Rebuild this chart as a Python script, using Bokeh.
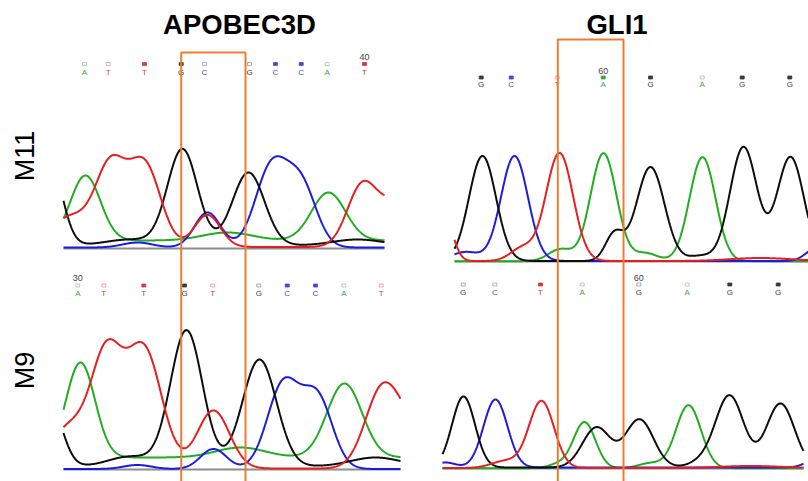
import numpy as np
from bokeh.plotting import figure
from bokeh.models import Range1d
from bokeh.core.properties import value
from bokeh.embed import file_html
from bokeh.resources import INLINE

# ---------------- data ----------------
genes = ["APOBEC3D", "GLI1"]
samples = ["M11", "M9"]

# chromatogram peaks per channel: (scan position, signal height, peak width)
# baseline level per channel
# --- APOBEC3D / M11
p1_base = {"A": 8, "C": 1, "G": 3, "T": 1.5}
p1_A = [(22, 65, 15), (164, 8, 25), (265, 48, 17)]
p1_C = [(74, 5, 15), (144, 35, 13), (208, 80, 16), (238, 60, 15)]
p1_G = [(-13, 80, 12), (67, 6, 25), (119, 96, 15), (185, 73, 16), (294, 6, 25)]
p1_T = [(7, 30, 20), (47, 78, 15), (81, 82, 16), (144, 32, 13), (299, 62, 15), (332, 40, 15)]
p1_bases = ["A", "T", "T", "G", "C", "G", "C", "C", "A", "T"]
p1_base_pos = [21, 44.7, 81, 117.7, 141, 186, 212, 237.7, 263.7, 301]
p1_qual = [0, 0, 1, 1, 0, 0, 1, 1, 0, 1]
p1_num = ("40", 9)

# --- GLI1 / M11
p2_base = {"A": 0.3, "C": 0.5, "G": 0.5, "T": 0.5}
p2_A = [(106, 12, 12), (149, 108, 13), (191, 8, 12), (248, 104, 13)]
p2_C = [(11, 9, 14), (60, 105, 13.5), (361, 12, 10)]
p2_G = [(28, 105, 13.5), (160, 27, 9), (196, 94, 14), (246, 5, 12), (289, 114, 13.5), (336, 104, 13.5)]
p2_T = [(-9, 40, 8), (68, 13, 12), (105, 108, 13.5), (306, 3, 30)]
p2_bases = ["G", "C", "T", "A", "G", "A", "G", "G"]
p2_base_pos = [26.7, 56.7, 102.7, 148.7, 196, 247.7, 287.7, 335.3]
p2_qual = [1, 1, 0, 1, 1, 0, 1, 1]
p2_num = ("60", 3)

# --- APOBEC3D / M9
p3_base = {"A": 12, "C": 0.5, "G": 3, "T": 1}
p3_A = [(17, 95, 14.5), (177, 10, 25), (281, 74, 17.5)]
p3_C = [(74, 4, 14), (150, 20, 13), (220, 85, 16), (254, 70, 15)]
p3_G = [(-13, 60, 12), (67, 10, 22), (123, 136, 16), (196, 107, 17), (312, 9, 25)]
p3_T = [(7, 42, 20), (43, 105, 15), (80, 120, 18), (150, 58, 16), (319, 80, 17), (347, 30, 15)]
p3_bases = ["A", "T", "T", "G", "T", "G", "C", "C", "A", "T"]
p3_base_pos = [14.3, 40.3, 80.3, 121, 149.3, 195.3, 223.7, 252, 280.3, 317.7]
p3_qual = [0, 0, 1, 1, 0, 0, 1, 1, 0, 0]
p3_num = ("30", 0)

# --- GLI1 / M9
p4_base = {"A": 0.3, "C": 1, "G": 1, "T": 0.5}
p4_A = [(116, 4, 10), (142, 46, 11), (208, 5, 12), (246, 63, 12.5)]
p4_C = [(3, 5, 10), (53, 68, 12), (373, 8, 10)]
p4_G = [(21, 71, 11.5), (154, 40, 14), (197, 48, 14), (258, 5, 12), (287, 72, 14), (338, 64, 14)]
p4_T = [(63, 7, 14), (99, 67, 12.5), (308, 2, 30)]
p4_bases = ["G", "C", "T", "A", "G", "A", "G", "G"]
p4_base_pos = [20.7, 52.3, 98, 139.7, 196.3, 244.7, 287.3, 335.7]
p4_qual = [0, 0, 1, 0, 0, 0, 1, 1]
p4_num = ("60", 4)

# highlighted site (scan range, relative to the M11 panel of each gene)
site_apobec = (117.7, 182)
site_gli1 = (103.3, 169)

# ---------------- layout / style ----------------
W, H = 808, 481
trace_col = {"A": "#1fae1f", "C": "#1c1ce0", "G": "#0d0d0d", "T": "#e61e1e"}
letter_col = {"A": "#3aa83a", "C": "#4848d8", "G": "#3a3a3a", "T": "#d83838"}
orange = "#ed7d31"

panels = [
    dict(peaks={"A": p1_A, "C": p1_C, "G": p1_G, "T": p1_T}, base=p1_base, bases=p1_bases,
         pos=p1_base_pos, qual=p1_qual, num=p1_num,
         x0=63, x1=384, y0=248, let_y=72, bar_y=63.5, num_y=56),
    dict(peaks={"A": p2_A, "C": p2_C, "G": p2_G, "T": p2_T}, base=p2_base, bases=p2_bases,
         pos=p2_base_pos, qual=p2_qual, num=p2_num,
         x0=454, x1=808, y0=261, let_y=83.5, bar_y=77, num_y=70),
    dict(peaks={"A": p3_A, "C": p3_C, "G": p3_G, "T": p3_T}, base=p3_base, bases=p3_bases,
         pos=p3_base_pos, qual=p3_qual, num=p3_num,
         x0=63, x1=400, y0=469, let_y=292.5, bar_y=285, num_y=277.5),
    dict(peaks={"A": p4_A, "C": p4_C, "G": p4_G, "T": p4_T}, base=p4_base, bases=p4_bases,
         pos=p4_base_pos, qual=p4_qual, num=p4_num,
         x0=442, x1=803, y0=468, let_y=291.5, bar_y=284, num_y=277),
]

p = figure(width=W, height=H, output_backend="svg", toolbar_location=None,
           x_range=Range1d(0, W), y_range=Range1d(H, 0),
           x_axis_type=None, y_axis_type=None, min_border=0)
p.outline_line_color = None
p.grid.visible = False
p.background_fill_color = "white"

FONT = value("Liberation Sans")

for pan in panels:
    xs = np.arange(0, pan["x1"] - pan["x0"] + 0.5, 0.5)
    # baseline
    p.line([pan["x0"], pan["x1"]], [pan["y0"], pan["y0"]], line_color="#8c8c8c", line_width=2)
    for ch in ["A", "C", "G", "T"]:
        sig = np.full_like(xs, pan["base"][ch], dtype=float)
        for c, h, s in pan["peaks"][ch]:
            sig += h * np.exp(-((xs - c) ** 2) / (2 * s * s))
        p.line(pan["x0"] + xs, pan["y0"] - sig, line_color=trace_col[ch], line_width=2)
    # base calls
    bx = [pan["x0"] + v for v in pan["pos"]]
    p.text(bx, [pan["let_y"]] * len(bx), text=pan["bases"],
           text_color=[letter_col[b] for b in pan["bases"]],
           text_font=FONT, text_font_size="8px", text_align="center", text_baseline="middle")
    for x, b, q in zip(bx, pan["bases"], pan["qual"]):
        if q:
            p.rect(x, pan["bar_y"], width=4, height=3, fill_color=letter_col[b], line_color=letter_col[b], line_width=0.8)
        else:
            p.rect(x, pan["bar_y"], width=4, height=3, fill_color=None, line_color=letter_col[b], line_alpha=0.5, line_width=0.8)
    lab, idx = pan["num"]
    p.text([bx[idx]], [pan["num_y"]], text=[lab], text_color="#444444", text_font=FONT,
           text_font_size="9px", text_align="center", text_baseline="middle")

# highlight boxes
for pan, site, top in [(panels[0], site_apobec, 52), (panels[1], site_gli1, 39)]:
    l, r = pan["x0"] + site[0], pan["x0"] + site[1]
    p.quad(left=[l], right=[r], top=[top], bottom=[495], fill_color=None,
           line_color=orange, line_width=2)

# gene titles
title_x = [239, 616.5]
p.text(title_x, [24, 24], text=genes, text_font=FONT, text_font_style="bold",
       text_font_size="27.5px", text_color="black", text_align="center", text_baseline="middle")
# sample labels
p.text([24.5, 24.5], [155.5, 370], text=samples, angle=np.pi / 2, text_font=FONT,
       text_font_size="27px", text_color="black", text_align="center", text_baseline="middle")

open("out.html", "w").write(file_html(p, INLINE))
